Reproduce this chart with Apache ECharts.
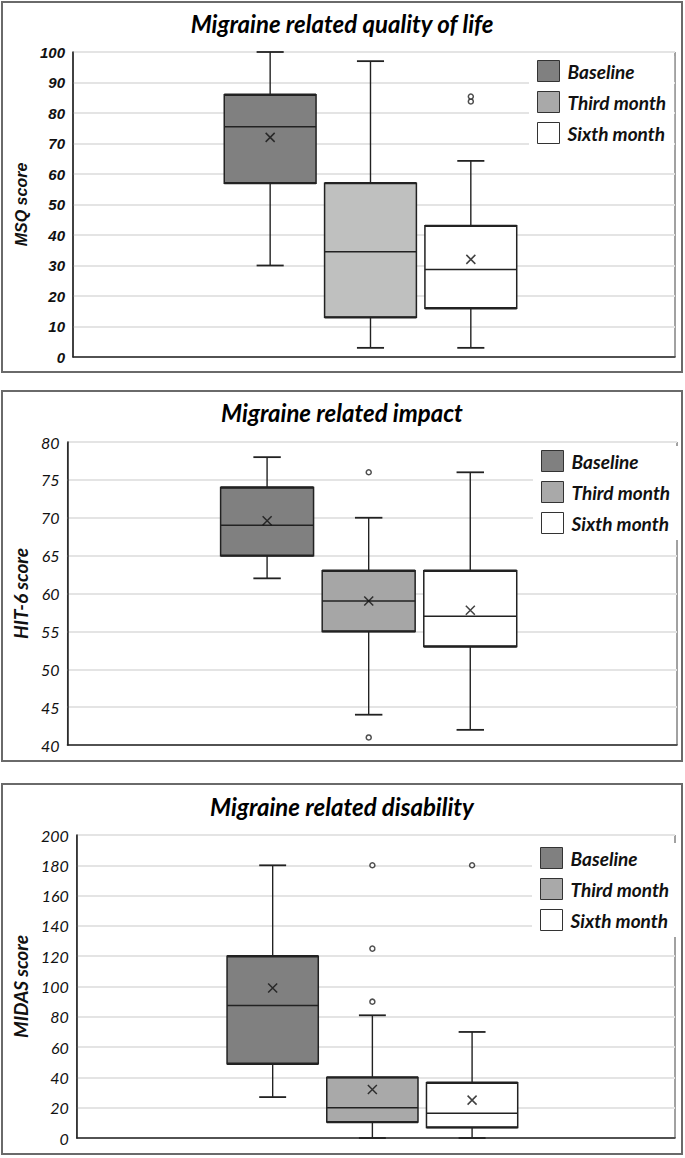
<!DOCTYPE html>
<html><head><meta charset="utf-8">
<script src="https://cdn.jsdelivr.net/npm/echarts@6/dist/echarts.min.js"></script>
<style>
html,body{margin:0;padding:0;background:#fff;}
.panel{position:absolute;left:1px;width:678px;height:368px;border:2px solid #6a6a6a;background:#fff;}
</style></head><body>
<div id="p1" class="panel" style="top:1px"></div>
<div id="p2" class="panel" style="top:390px"></div>
<div id="p3" class="panel" style="top:783px"></div>
<script>
// ---------- data ----------
const GROUPS = ['Baseline', 'Third month', 'Sixth month'];

// box values per group: [min, Q1, median, Q3, max]
const QOL_BOX = [[30, 57, 75.5, 86, 100], [3, 13, 34.5, 57, 97], [3, 16, 28.7, 43, 64.3]];
const QOL_MEAN = [72, null, 32];
const QOL_OUTLIERS = [[], [], [83.8, 85.4]];
const QOL_AXIS = [0, 100, 10];

const HIT_BOX = [[62, 65, 69, 74, 78], [44, 55, 59, 63, 70], [42, 53, 57, 63, 76]];
const HIT_MEAN = [69.6, 59, 57.8];
const HIT_OUTLIERS = [[], [76, 41], []];
const HIT_AXIS = [40, 80, 5];

const MIDAS_BOX = [[27, 49, 87.5, 120, 180], [0, 10.5, 20, 40, 81], [0, 7, 16.3, 36.5, 70]];
const MIDAS_MEAN = [99, 32, 25];
const MIDAS_OUTLIERS = [[], [180, 125, 90], [180]];
const MIDAS_AXIS = [0, 200, 20];

// ---------- drawing ----------
const SLOTS = ['', ''].concat(GROUPS, ['', '']);
const FIRST = 2;
const LEGEND_COLORS = ['#808080', '#a9a9a9', '#ffffff'];
const INK = '#222';

function renderBox(params, api) {
  const x = api.value(0);
  const c = k => api.coord([x, api.value(k)]);
  const pMin = c(1), pQ1 = c(2), pMed = c(3), pQ3 = c(4), pMax = c(5);
  const step = api.size([1, 0])[0];
  const bw = step * 0.915, hw = bw / 2, cap = step * 0.135;
  const cx = pMed[0] - step * 0.035;
  const ln = (x1, y1, x2, y2, w) => ({type: 'line', shape: {x1, y1, x2, y2}, style: {stroke: INK, lineWidth: w}});
  return {type: 'group', children: [
    ln(cx, pQ3[1], cx, pMax[1], 1.4),
    ln(cx, pQ1[1], cx, pMin[1], 1.4),
    ln(cx - cap, pMax[1], cx + cap, pMax[1], 1.8),
    ln(cx - cap, pMin[1], cx + cap, pMin[1], 1.8),
    {type: 'rect', shape: {x: cx - hw, y: pQ3[1], width: bw, height: pQ1[1] - pQ3[1]},
      style: {fill: api.visual('color'), stroke: INK, lineWidth: 1.5}},
    ln(cx - hw, pQ3[1], cx + hw, pQ3[1], 2.4),
    ln(cx - hw, pQ1[1], cx + hw, pQ1[1], 2.4),
    ln(cx - hw, pMed[1], cx + hw, pMed[1], 1.5)
  ]};
}

function makeOption(cfg) {
  const series = GROUPS.map((g, i) => ({
    type: 'custom', name: g, renderItem: renderBox, clip: false,
    itemStyle: {color: cfg.fills[i]},
    encode: {x: 0, y: [1, 2, 3, 4, 5]},
    data: [[FIRST + i].concat(cfg.box[i])],
    z: 2
  }));
  const means = [];
  cfg.mean.forEach((m, i) => { if (m != null) means.push([FIRST + i, m]); });
  const outs = [];
  cfg.outliers.forEach((arr, i) => arr.forEach(v => outs.push([FIRST + i, v])));
  series.push({
    type: 'scatter', name: 'mean', silent: true, z: 5,
    symbol: 'path://M0,0L10,10M10,0L0,10', symbolSize: 9, symbolOffset: [-3.5, 0],
    itemStyle: {color: 'rgba(0,0,0,0)', borderColor: '#111', borderWidth: 1.5},
    data: means
  });
  series.push({
    type: 'scatter', name: 'outlier', silent: true, z: 5,
    symbol: 'circle', symbolSize: 5, symbolOffset: [-3.5, 0],
    itemStyle: {color: '#fff', borderColor: '#222', borderWidth: 1.5},
    data: outs
  });
  return {
    animation: false,
    title: {
      text: cfg.title, left: 'center', top: cfg.titleTop, padding: 0,
      textStyle: {fontFamily: 'Lato', fontStyle: 'italic', fontWeight: 'bold', fontSize: 24, color: '#000'}
    },
    legend: {
      orient: 'vertical', left: cfg.legendPos[0], top: cfg.legendPos[1],
      padding: [4, 8, 6, 8], backgroundColor: '#fff',
      itemWidth: 22, itemHeight: 21, itemGap: 9,
      selectedMode: false,
      textStyle: {fontFamily: 'Lato', fontStyle: 'italic', fontWeight: 'bold', fontSize: 19, color: '#111', padding: [0, 0, 0, 3]},
      data: GROUPS.map((g, i) => ({name: g, icon: 'rect',
        itemStyle: {color: LEGEND_COLORS[i], borderColor: '#333', borderWidth: 1}}))
    },
    grid: {left: cfg.grid[0], top: cfg.grid[1], width: cfg.grid[2], height: cfg.grid[3],
      show: true, borderColor: '#444', borderWidth: 1, backgroundColor: 'transparent'},
    xAxis: {
      type: 'category', data: SLOTS, boundaryGap: false,
      axisLine: {show: true, lineStyle: {color: '#222', width: 1.5}},
      axisTick: {show: false}, axisLabel: {show: false}, splitLine: {show: false}
    },
    yAxis: {
      type: 'value', min: cfg.axis[0], max: cfg.axis[1], interval: cfg.axis[2],
      name: cfg.yName, nameLocation: 'middle', nameGap: cfg.nameGap,
      nameTextStyle: cfg.nameStyle,
      axisLine: {show: true, lineStyle: {color: '#222', width: 1.5}},
      axisTick: {show: false},
      axisLabel: Object.assign({margin: 8, color: '#111'}, cfg.labelStyle),
      splitLine: {show: true, lineStyle: {color: '#e4e4e4', width: 2}}
    },
    series
  };
}

const panels = [
  {el: 'p1', title: 'Migraine related quality of life', titleTop: 8,
   box: QOL_BOX, mean: QOL_MEAN, outliers: QOL_OUTLIERS, axis: QOL_AXIS,
   fills: ['#808080', '#bfc0bf', '#ffffff'],
   grid: [70, 49, 602, 305], legendPos: [526, 53],
   yName: 'MSQ score', nameGap: 42,
   nameStyle: {fontFamily: 'Liberation Sans', fontStyle: 'italic', fontWeight: 'bold', fontSize: 16, color: '#111'},
   labelStyle: {fontFamily: 'Liberation Sans', fontStyle: 'italic', fontWeight: 'bold', fontSize: 15}},
  {el: 'p2', title: 'Migraine related impact', titleTop: 8,
   box: HIT_BOX, mean: HIT_MEAN, outliers: HIT_OUTLIERS, axis: HIT_AXIS,
   fills: ['#808080', '#a6a6a6', '#ffffff'],
   grid: [64, 50, 610, 303], legendPos: [530, 54],
   yName: 'HIT-6 score', nameGap: 34,
   nameStyle: {fontFamily: 'Lato', fontStyle: 'italic', fontWeight: 'bold', fontSize: 19, color: '#111'},
   labelStyle: {fontFamily: 'Lato', fontStyle: 'italic', fontWeight: 'normal', fontSize: 16}},
  {el: 'p3', title: 'Migraine related disability', titleTop: 9,
   box: MIDAS_BOX, mean: MIDAS_MEAN, outliers: MIDAS_OUTLIERS, axis: MIDAS_AXIS,
   fills: ['#808080', '#a9a9a9', '#ffffff'],
   grid: [70, 50, 602, 303], legendPos: [529, 58],
   yName: 'MIDAS score', nameGap: 40,
   nameStyle: {fontFamily: 'Lato', fontStyle: 'italic', fontWeight: 'bold', fontSize: 19, color: '#111'},
   labelStyle: {fontFamily: 'Lato', fontStyle: 'italic', fontWeight: 'normal', fontSize: 16}}
];

panels.forEach(p => {
  const chart = echarts.init(document.getElementById(p.el), null, {renderer: 'svg'});
  chart.setOption(makeOption(p));
});
</script>
</body></html>
